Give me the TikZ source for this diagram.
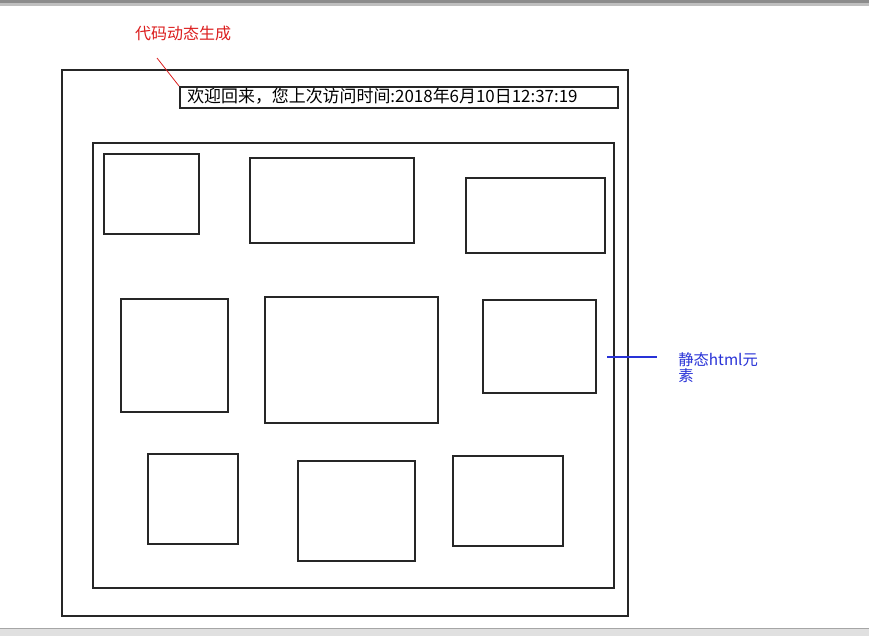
\documentclass[tikz,border=0pt]{standalone}
\usepackage{fontspec}
\newfontfamily\cjk{Noto Sans CJK SC}
\definecolor{lblblue}{RGB}{40,50,215}
\definecolor{lblred}{RGB}{220,30,30}
\begin{document}
\begin{tikzpicture}[x=0.75pt,y=-0.75pt,
  frame/.style={draw=black!85,line width=1.15pt},
  box/.style={draw=black!85,line width=1.15pt},
  redlabel/.style={text=lblred,font=\cjk\fontsize{12}{14}\selectfont,inner sep=0pt},
  bluelabel/.style={text=lblblue,font=\cjk\fontsize{11.5}{12.5}\selectfont,inner sep=0pt,align=left,anchor=north west}]
\useasboundingbox (0,0) rectangle (869,636);
\fill[white] (0,0) rectangle (869,636);
% screenshot chrome
\fill[black!45] (0,0) rectangle (869,3);
\fill[black!25] (0,3) rectangle (869,6);
\fill[black!12] (0,628) rectangle (869,636);
\draw[black!35] (0,628) -- (869,628);
% frames
\node[frame,minimum width=566*0.75pt,minimum height=546*0.75pt,anchor=north west,inner sep=0pt] (outer) at (61,69) {};
\node[frame,minimum width=521*0.75pt,minimum height=445*0.75pt,anchor=north west,inner sep=0pt] (inner) at (92,142) {};
% welcome line
\node[box,anchor=north west,minimum width=438*0.75pt,minimum height=21*0.75pt,inner sep=0pt] (welcome) at (179,86) {};
\node[anchor=west,inner sep=0pt,font=\cjk\fontsize{12.7}{14}\selectfont] (welcometext) at (187,96.5)
  {欢迎回来，您上次访问时间:2018年6月10日12:37:19};
% boxes
\foreach \n/\a/\b/\c/\d in {b1/103/153/198/233, b2/249/157/413/242, b3/465/177/604/252,
  b4/120/298/227/411, b5/264/296/437/422, b6/482/299/595/392,
  b7/147/453/237/543, b8/297/460/414/560, b9/452/455/562/545}
  \node[box,anchor=north west,inner sep=0pt,minimum width={(\c-\a)*0.75pt},minimum height={(\d-\b)*0.75pt}] (\n) at (\a,\b) {};
% red label
\node[redlabel] (dyn) at (183,33) {代码动态生成};
\coordinate (dynend) at (157,58);
\draw[lblred,line width=0.6pt] (dynend) -- (welcome.north west);
% blue label
\node[bluelabel] (static) at (678,352) {静态html元\\素};
\coordinate (bluestart) at (607,357);
\coordinate (blueend) at (657,357);
\draw[lblblue,line width=0.8pt] (bluestart) -- (blueend);
\end{tikzpicture}
\end{document}
